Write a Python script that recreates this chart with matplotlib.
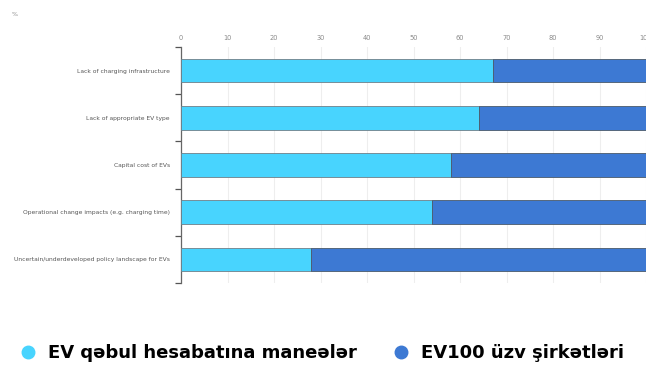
import numpy as np
import matplotlib.pyplot as plt
from matplotlib.lines import Line2D

categories = ["Lack of charging infrastructure",
              "Lack of appropriate EV type",
              "Capital cost of EVs",
              "Operational change impacts (e.g. charging time)",
              "Uncertain/underdeveloped policy landscape for EVs"]
barriers = [67, 64, 58, 54, 28]
members = [33, 36, 42, 46, 72]
series_names = ["EV qəbul hesabatına maneələr", "EV100 üzv şirkətləri"]
colors = ["#48d4fe", "#3d79d3"]

fig = plt.figure(figsize=(6.46, 3.65), dpi=100)
ax = fig.add_axes([181 / 646, 1 - 283 / 365, 1 - 181 / 646, 236 / 365])

y = np.arange(len(categories))
ax.barh(y, barriers, height=0.5, color=colors[0], edgecolor="#6f7f88", linewidth=0.6, zorder=3)
ax.barh(y, members, left=barriers, height=0.5, color=colors[1], edgecolor="#4a5a6a", linewidth=0.6, zorder=3)

ax.set_xlim(0, 100)
ax.set_ylim(4.5, -0.5)
ax.set_xticks(np.arange(0, 101, 10))
ax.xaxis.tick_top()
ax.tick_params(axis="x", length=0, labelsize=4.8, labelcolor="#8a8a8a", pad=4)
ax.grid(axis="x", color="#eeeeee", linewidth=0.8, zorder=0)

ax.set_yticks(y)
ax.set_yticklabels(categories)
ax.set_yticks(np.arange(-0.5, 5, 1), minor=True)
ax.tick_params(axis="y", which="major", length=0, labelsize=4.3, labelcolor="#555555", pad=8)
ax.tick_params(axis="y", which="minor", length=4, width=0.9, color="#555555")

for s in ["top", "right", "bottom"]:
    ax.spines[s].set_visible(False)
ax.spines["left"].set_color("#666666")
ax.spines["left"].set_linewidth(0.9)

fig.text(12 / 646, 1 - 15 / 365, "%", fontsize=4.5, color="#8a8a8a", va="center")

handles = [Line2D([], [], linestyle="none", marker="o", markersize=9,
                  markerfacecolor=c, markeredgecolor=c) for c in colors]
fig.legend(handles, series_names, loc="center left", bbox_to_anchor=(1 / 646, 1 - 353 / 365),
           ncol=2, frameon=False, handletextpad=0.1, columnspacing=1.46, borderpad=0,
           prop={"family": "DejaVu Sans", "weight": "bold", "size": 13})

fig.savefig("out.png", dpi=100)
